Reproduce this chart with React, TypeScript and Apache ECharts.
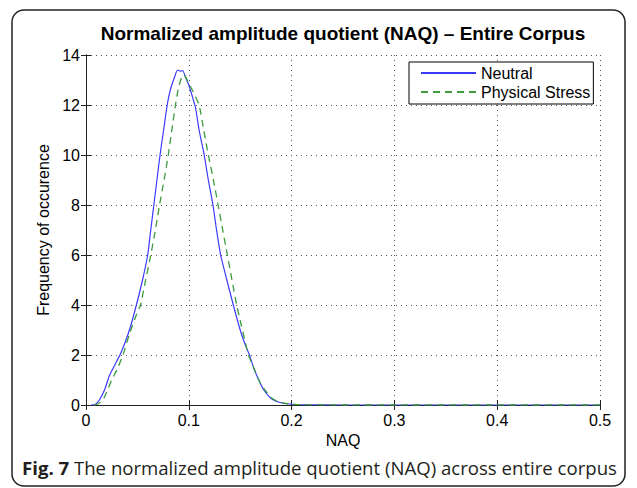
import React, { useEffect, useRef } from "react";
import * as echarts from "echarts";

const titleText = "Normalized amplitude quotient (NAQ) \u2013 Entire Corpus";
const xAxisName = "NAQ";
const yAxisName = "Frequency of occurence";
const captionBold = "Fig. 7";
const captionRest = " The normalized amplitude quotient (NAQ) across entire corpus";
const seriesNames = ["Neutral", "Physical Stress"];

const xMin = 0;
const xMax = 0.5;
const xStep = 0.1;
const yMin = 0;
const yMax = 14;
const yStep = 2;

const neutralX = [0.005, 0.009, 0.013, 0.018, 0.023, 0.028, 0.033, 0.038, 0.043, 0.049, 0.055, 0.06, 0.063, 0.066, 0.069, 0.072, 0.0755, 0.079, 0.082, 0.086, 0.089, 0.092, 0.094, 0.097, 0.1, 0.103, 0.1065, 0.11, 0.113, 0.115, 0.119, 0.1235, 0.127, 0.131, 0.137, 0.1433, 0.15, 0.155, 0.159, 0.163, 0.168, 0.173, 0.179, 0.185, 0.192, 0.2, 0.21, 0.25, 0.3, 0.4, 0.5];
const neutralY = [0, 0.02, 0.2, 0.6, 1.2, 1.6, 2.0, 2.5, 3.1, 4.0, 5.0, 6.0, 7.0, 8.0, 9.0, 10.0, 11.0, 12.0, 12.6, 13.1, 13.4, 13.35, 13.38, 13.1, 12.8, 12.4, 11.9, 11.0, 10.4, 10.0, 9.0, 8.0, 7.0, 6.0, 5.0, 4.0, 3.0, 2.4, 2.0, 1.5, 1.0, 0.6, 0.3, 0.15, 0.07, 0.03, 0.01, 0, 0, 0, 0];

const stressX = [0.008, 0.012, 0.017, 0.021, 0.025, 0.03, 0.036, 0.042, 0.048, 0.053, 0.058, 0.063, 0.0675, 0.0715, 0.076, 0.08, 0.0835, 0.087, 0.09, 0.093, 0.0956, 0.099, 0.104, 0.11, 0.1145, 0.119, 0.124, 0.1285, 0.133, 0.1375, 0.142, 0.1466, 0.151, 0.155, 0.158, 0.162, 0.166, 0.17, 0.175, 0.18, 0.186, 0.193, 0.2, 0.21, 0.25, 0.3, 0.4, 0.5];
const stressY = [0, 0.05, 0.25, 0.6, 1.0, 1.4, 2.0, 2.8, 3.5, 4.0, 5.0, 6.0, 7.0, 8.0, 9.0, 10.0, 11.0, 12.0, 12.7, 13.1, 13.2, 12.95, 12.55, 12.0, 11.0, 10.0, 9.0, 8.0, 7.0, 6.0, 5.0, 4.0, 3.2, 2.5, 2.0, 1.6, 1.2, 0.85, 0.55, 0.3, 0.15, 0.07, 0.03, 0.01, 0, 0, 0, 0];

const zip = (xs: number[], ys: number[]) => xs.map((x, i) => [x, ys[i]]);

const FONT = "Liberation Sans, Arial, sans-serif";

export default function App() {
  const ref = useRef<HTMLDivElement>(null);
  useEffect(() => {
    if (!ref.current) return;
    const chart = echarts.init(ref.current, undefined, { renderer: "svg" });
    const axisLine = { show: true, lineStyle: { color: "#222", width: 1 } };
    const tick = { show: true, inside: true, length: 5, lineStyle: { color: "#222" } };
    const split = { show: true, lineStyle: { color: "#555", type: [1, 4] as any, width: 1 } };
    chart.setOption({
      animation: false,
      backgroundColor: "#fff",
      grid: { left: 86, top: 55, width: 514, height: 350, containLabel: false },
      xAxis: [
        {
          type: "value", min: xMin, max: xMax, interval: xStep, position: "bottom",
          name: xAxisName, nameLocation: "middle", nameGap: 24,
          nameTextStyle: { fontFamily: FONT, fontSize: 16, color: "#000" },
          axisLine, axisTick: tick, splitLine: split,
          axisLabel: { fontFamily: FONT, fontSize: 16, color: "#000", margin: 7 },
        },
        {
          type: "value", min: xMin, max: xMax, interval: xStep, position: "top",
          axisLine, axisTick: tick, splitLine: { show: false }, axisLabel: { show: false },
        },
      ],
      yAxis: [
        {
          type: "value", min: yMin, max: yMax, interval: yStep, position: "left",
          name: yAxisName, nameLocation: "middle", nameGap: 33,
          nameTextStyle: { fontFamily: FONT, fontSize: 16, color: "#000" },
          axisLine, axisTick: tick, splitLine: split,
          axisLabel: { fontFamily: FONT, fontSize: 16, color: "#000", margin: 6 },
        },
        {
          type: "value", min: yMin, max: yMax, interval: yStep, position: "right",
          axisLine, axisTick: tick, splitLine: { show: false }, axisLabel: { show: false },
        },
      ],
      legend: {
        orient: "vertical", left: 409, top: 62,
        itemWidth: 55, itemHeight: 14, itemGap: 3,
        padding: [3, 3, 4, 11],
        borderColor: "#000", borderWidth: 1, backgroundColor: "#fff",
        itemStyle: { opacity: 0 },
        textStyle: { fontFamily: FONT, fontSize: 16, color: "#000" },
        data: seriesNames,
      },
      series: [
        {
          name: seriesNames[0], type: "line", data: zip(neutralX, neutralY),
          symbol: "none", smooth: 0.2, z: 3,
          lineStyle: { color: "#3a3aff", width: 1.2 }, itemStyle: { color: "#3a3aff" },
        },
        {
          name: seriesNames[1], type: "line", data: zip(stressX, stressY),
          symbol: "none", smooth: 0.2, z: 4,
          lineStyle: { color: "#3c9c3c", width: 1.3, type: [7, 5] as any }, itemStyle: { color: "#3c9c3c" },
        },
      ],
      graphic: [
        {
          type: "rect", z: -1, silent: true,
          shape: { x: 12, y: 10, width: 613, height: 476, r: 12 },
          style: { fill: "none", stroke: "#222", lineWidth: 1.5 },
        },
        {
          type: "text", x: 343, y: 33,
          style: {
            text: titleText, fontFamily: FONT, fontSize: 19, fontWeight: "bold",
            fill: "#000", align: "center", verticalAlign: "middle",
          },
        },
        {
          type: "text", x: 22, y: 467,
          style: {
            text: "{b|" + captionBold + "}{n|" + captionRest + "}",
            verticalAlign: "middle", align: "left",
            rich: {
              b: { fontFamily: "Open Sans", fontSize: 18.6, fontWeight: "bold", fill: "#231f20" },
              n: { fontFamily: "Open Sans", fontSize: 18.6, fill: "#231f20" },
            },
          },
        },
      ],
    });
    return () => chart.dispose();
  }, []);
  return (
    <div
      ref={ref}
      style={{ position: "absolute", left: 0, top: 0, width: 637, height: 488 }}
    />
  );
}
